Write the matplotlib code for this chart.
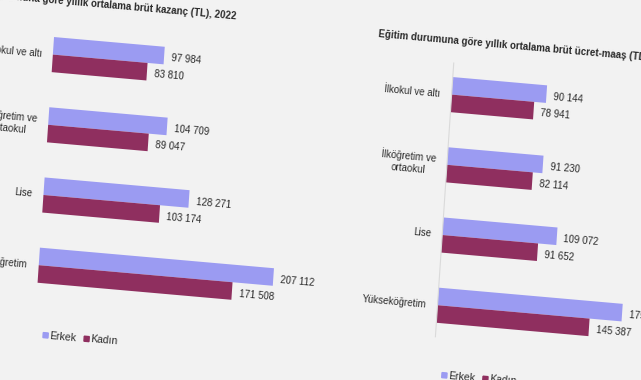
import numpy as np
import matplotlib
matplotlib.use('Agg')
from matplotlib import pyplot as plt
from matplotlib.transforms import Affine2D
from matplotlib.patches import Rectangle

categories = ['İlkokul ve altı', 'İlköğretim ve\nortaokul', 'Lise', 'Yükseköğretim']
series_names = ['Erkek', 'Kadın']

# yearly average gross earnings (TL), 2022
kazanc_erkek = [97984, 104709, 128271, 207112]
kazanc_kadin = [83810, 89047, 103174, 171508]
# yearly average gross wage (TL)
ucret_erkek = [90144, 91230, 109072, 175940]
ucret_kadin = [78941, 82114, 91652, 145387]

titles = ['Eğitim durumuna göre yıllık ortalama brüt kazanç (TL), 2022',
          'Eğitim durumuna göre yıllık ortalama brüt ücret-maaş (TL)']

plt.rcParams['font.family'] = ['Liberation Sans Narrow', 'Liberation Sans', 'DejaVu Sans']

W, H = 641, 380
fig = plt.figure(figsize=(W / 100, H / 100), dpi=100, facecolor='#f2f2f2')

# the source is a slanted photo of the page -> shear everything a bit
tilt = Affine2D().translate(-320, -190).skew(np.arctan(0.067), np.arctan(-0.088)).translate(320, 190)
angle = np.degrees(np.arctan(-0.088))

c_erkek = '#9b9bf2'
c_kadin = '#8f2f5f'
txt = '#2a2a2a'
fs = 7


def px(dx, dy):
    return Affine2D().translate(dx, dy)


def fmt(v):
    return '{:,}'.format(v).replace(',', ' ')


def draw(ax, erkek, kadin, title, gap, title_dx, axis_line=False):
    y = np.arange(len(categories))
    h = 0.25
    ax.set_xlim(0, 250000)
    ax.set_ylim(len(categories) - 0.5, -0.5)
    ax.axis('off')

    if axis_line:
        ax.plot([0, 0], [-0.45, 3.45], color='#dadada', lw=0.8,
                transform=ax.transData + tilt, clip_on=False)

    b1 = ax.barh(y - h / 2, erkek, height=h, color=c_erkek)
    b2 = ax.barh(y + h / 2, kadin, height=h, color=c_kadin)
    for p in list(b1) + list(b2):
        p.set_transform(ax.transData + tilt)
        p.set_clip_on(False)

    kw = dict(rotation=angle, rotation_mode='anchor', color=txt, clip_on=False)
    for yy, v in zip(y - h / 2, erkek):
        ax.text(v, yy, fmt(v), transform=ax.transData + px(7, -2) + tilt,
                ha='left', va='center', fontsize=fs, **kw)
    for yy, v in zip(y + h / 2, kadin):
        ax.text(v, yy, fmt(v), transform=ax.transData + px(7, -2) + tilt,
                ha='left', va='center', fontsize=fs, **kw)

    # category labels
    for yy, c in zip(y, categories):
        ax.text(0, yy, c, transform=ax.get_yaxis_transform() + px(-gap, 0) + tilt,
                ha='right', va='center', multialignment='center', fontsize=fs, **kw)

    # title
    ax.text(0, 1, title, transform=ax.transAxes + px(title_dx, 18.5) + tilt,
            ha='left', va='center', fontweight='bold', fontsize=fs, **kw)

    # legend squares and names, below the bars
    for i, (name, col) in enumerate(zip(series_names, [c_erkek, c_kadin])):
        x0 = 9 + 41 * i
        sq = Rectangle((x0, -36.5), 5, 5, color=col, clip_on=False)
        sq.set_transform(Affine2D().translate(*ax.transAxes.transform((0, 0))) + tilt)
        ax.add_artist(sq)
        ax.text(0, 0, name, transform=ax.transAxes + px(x0 + 6.5, -34) + tilt,
                ha='left', va='center', fontsize=fs + 0.5, **kw)
    return ax


ax1 = fig.add_axes([45.4 / W, (H - 324.45) / H, 282.5 / W, 280.8 / H])
ax2 = fig.add_axes([444.5 / W, (H - 329.35) / H, 261.5 / W, 280.8 / H])

draw(ax1, kazanc_erkek, kazanc_kadin, titles[0], 11, -97)
draw(ax2, ucret_erkek, ucret_kadin, titles[1], 11, -77, axis_line=True)

fig.savefig('out.png', dpi=100, facecolor=fig.get_facecolor())
